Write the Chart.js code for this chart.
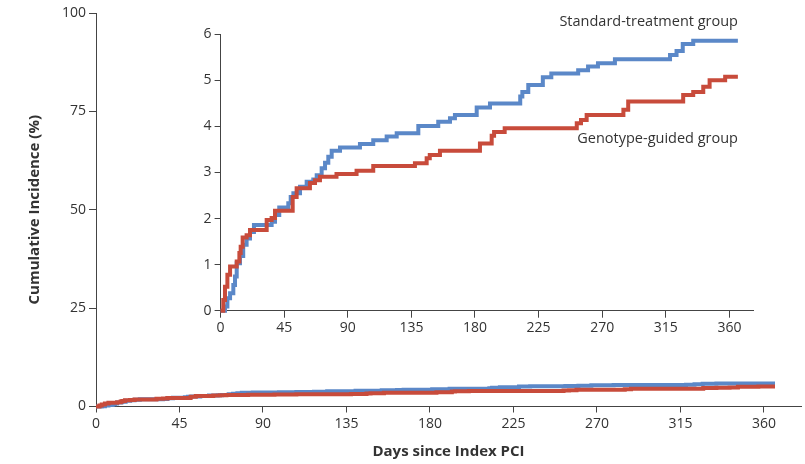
<!DOCTYPE html>
<html>
<head>
<meta charset="utf-8">
<script src="https://cdn.jsdelivr.net/npm/chart.js@4.4.1/dist/chart.umd.min.js"></script>
<style>
  html, body { margin: 0; padding: 0; background: #fff; }
  #wrap { position: relative; width: 805px; height: 464px; overflow: hidden; }
  #main { position: absolute; left: 0; top: 0; }
  #inset { position: absolute; left: 160px; top: 20px; }
  .lbl { position: absolute; font-family: "Open Sans", "Noto Sans", sans-serif; font-size: 14.5px; color: #333; white-space: nowrap; text-align: right; }
</style>
</head>
<body>
<div id="wrap">
  <canvas id="main" width="805" height="464"></canvas>
  <canvas id="inset" width="600" height="330"></canvas>
  <div class="lbl" id="lblStd" style="right:67px; top:11px;">Standard-treatment group</div>
  <div class="lbl" id="lblGeno" style="right:67px; top:128px;">Genotype-guided group</div>
</div>
<script>
// ---- Data (days since index PCI, cumulative incidence %) ----
const stdDays = [0, 3.1, 4.8, 6.7, 9, 10.2, 11.4, 13.7, 16, 18.4, 20.8, 23.6, 36.1, 38.5, 41.5, 47.9, 49.6, 51.5, 56.2, 60.9, 65.6, 68, 71.5, 73.9, 76.2, 78.6, 84.5, 98.6, 108, 117.5, 124.6, 139.9, 154, 162.3, 165.8, 181.2, 190.6, 212, 213.5, 217.7, 228, 234, 253, 260, 267, 279, 318, 322.6, 327, 334.4, 366];
const stdInc  = [0, 0.09, 0.27, 0.38, 0.56, 0.74, 1.03, 1.19, 1.43, 1.57, 1.71, 1.86, 1.93, 2.08, 2.24, 2.33, 2.47, 2.55, 2.69, 2.80, 2.85, 2.94, 3.09, 3.21, 3.34, 3.47, 3.54, 3.62, 3.70, 3.78, 3.85, 4.01, 4.10, 4.18, 4.25, 4.41, 4.50, 4.65, 4.75, 4.90, 5.07, 5.15, 5.22, 5.30, 5.37, 5.46, 5.55, 5.64, 5.79, 5.86, 5.86];

const genoDays = [0, 1.9, 3.1, 4.8, 6.7, 11.4, 13.3, 14.2, 15.6, 18.4, 20.8, 32.6, 36.1, 38.5, 51, 53.8, 63.2, 66.8, 70.3, 82, 96.2, 108, 137.5, 145.8, 148, 155.2, 183.5, 191.8, 193.5, 201, 252, 255, 259, 285, 288.4, 327.3, 334.4, 341.5, 346, 357, 366];
const genoInc  = [0, 0.23, 0.52, 0.78, 0.96, 1.07, 1.25, 1.39, 1.59, 1.64, 1.75, 1.97, 2.01, 2.17, 2.47, 2.66, 2.77, 2.83, 2.91, 2.97, 3.04, 3.14, 3.20, 3.31, 3.38, 3.47, 3.63, 3.80, 3.88, 3.96, 4.07, 4.14, 4.25, 4.36, 4.54, 4.68, 4.75, 4.86, 5.00, 5.08, 5.08];

const xTicks = [0, 45, 90, 135, 180, 225, 270, 315, 360];
const mainYTicks = [0, 25, 50, 75, 100];
const insetYTicks = [0, 1, 2, 3, 4, 5, 6];

const seriesNames = ['Genotype-guided group', 'Standard-treatment group'];
const BLUE = '#5b88c8';
const RED = '#c84b3b';

function pts(days, vals) { return days.map((d, i) => ({ x: d, y: vals[i] })); }

const FONT = '"Open Sans", "Noto Sans", sans-serif';
const AXC = '#444';
const TXT = '#333';

function datasets() {
  return [
    { label: seriesNames[0], data: pts(genoDays, genoInc), borderColor: RED, borderWidth: 4, pointRadius: 0, stepped: true, fill: false, clip: false },
    { label: seriesNames[1], data: pts(stdDays, stdInc), borderColor: BLUE, borderWidth: 4, pointRadius: 0, stepped: true, fill: false, clip: false }
  ];
}

function axis(opts) {
  const o = {
    type: 'linear',
    min: opts.min, max: opts.max,
    afterBuildTicks: s => { s.ticks = opts.ticks.map(v => ({ value: v })); },
    border: { display: true, color: AXC, width: 1 },
    grid: { drawOnChartArea: false, drawTicks: true, tickLength: opts.tickLength || 7, color: AXC, lineWidth: 1 },
    ticks: { color: TXT, font: { family: FONT, size: 14 }, padding: opts.pad || 2, maxRotation: 0, autoSkip: false, includeBounds: false },
    afterFit: s => { if (opts.w !== undefined) s.width = opts.w; if (opts.h !== undefined) s.height = opts.h; }
  };
  if (opts.title) o.title = opts.title;
  return o;
}

new Chart(document.getElementById('main'), {
  type: 'line',
  data: { datasets: datasets() },
  options: {
    responsive: false, animation: false,
    layout: { padding: { top: 13, right: 4, left: 0, bottom: 0 } },
    plugins: { legend: { display: false }, tooltip: { enabled: false } },
    scales: {
      x: axis({ min: 0, max: 380, ticks: xTicks, h: 57.5, tickLength: 6, pad: 3,
        title: { display: true, text: 'Days since Index PCI', color: TXT, font: { family: FONT, size: 15, weight: 'bold' }, padding: { top: 0, bottom: 3 } } }),
      y: axis({ min: 0, max: 100, ticks: mainYTicks, w: 96, tickLength: 7, pad: 3,
        title: { display: true, text: 'Cumulative Incidence (%)', color: TXT, font: { family: FONT, size: 15, weight: 'bold' }, padding: { top: 26, bottom: 0 } } })
    }
  }
});

new Chart(document.getElementById('inset'), {
  type: 'line',
  data: { datasets: datasets() },
  options: {
    responsive: false, animation: false,
    layout: { padding: { top: 14.3, right: 7, left: 0, bottom: 0 } },
    plugins: { legend: { display: false }, tooltip: { enabled: false } },
    scales: {
      x: axis({ min: 0, max: 376.7, ticks: xTicks, h: 39.3, tickLength: 7, pad: 2 }),
      y: axis({ min: 0, max: 6, ticks: insetYTicks, w: 60.6, tickLength: 6, pad: 3 })
    }
  }
});
</script>
</body>
</html>
